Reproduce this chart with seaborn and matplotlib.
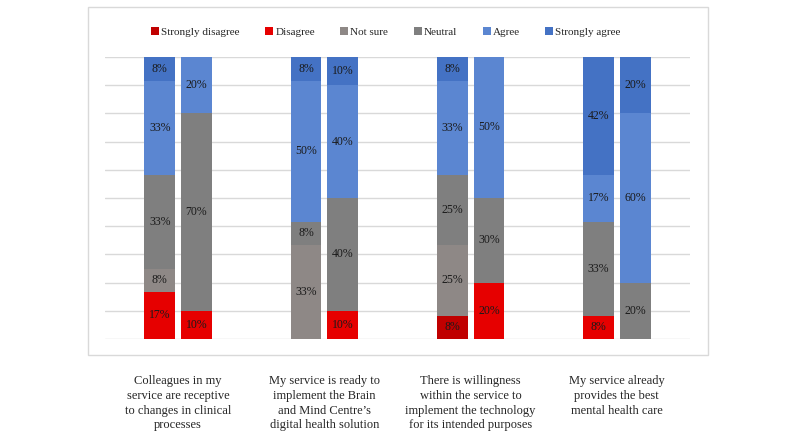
import seaborn as sns
import matplotlib.pyplot as plt
from matplotlib.patches import Patch, Rectangle
import pandas as pd

questions = [
    "Colleagues in my\nservice are receptive\nto changes in clinical\nprocesses",
    "My service is ready to\nimplement the Brain\nand Mind Centre\u2019s\ndigital health solution",
    "There is willingness\nwithin the service to\nimplement the technology\nfor its intended purposes",
    "My service already\nprovides the best\nmental health care",
]
bars = ["A", "B"]
levels = ["Strongly disagree", "Disagree", "Not sure", "Neutral", "Agree", "Strongly agree"]
colors = ["#C00000", "#E60000", "#8E8886", "#7F7F7F", "#5B86D1", "#4472C4"]

# percentages per bar, bottom to top, in the order of `levels`
strongly_disagree = [0, 0, 0, 0, 8.33, 0, 0, 0]
disagree = [16.67, 10, 0, 10, 0, 20, 8.33, 0]
not_sure = [8.33, 0, 33.33, 0, 25, 0, 0, 0]
neutral = [33.33, 70, 8.33, 40, 25, 30, 33.33, 20]
agree = [33.33, 20, 50, 40, 33.33, 50, 16.67, 60]
strongly_agree = [8.33, 0, 8.33, 10, 8.33, 0, 41.67, 20]

series = [strongly_disagree, disagree, not_sure, neutral, agree, strongly_agree]

df = pd.DataFrame({
    "question": [q for q in questions for _ in bars],
    "bar": bars * len(questions),
})
cum = [0.0] * len(df)
for name, vals in zip(levels, series):
    cum = [c + v for c, v in zip(cum, vals)]
    df[name] = cum

sns.set_style("white")
plt.rcParams["font.family"] = ["Liberation Serif", "DejaVu Serif"]

fig = plt.figure(figsize=(8, 4.37), dpi=100)
ax = fig.add_axes([105 / 800, 98 / 437, 585 / 800, 282 / 437])

# frame around the chart
fig.patches.append(Rectangle((88 / 800, 82 / 437), 620 / 800, 348 / 437,
                             transform=fig.transFigure, fill=False,
                             edgecolor="#d9d9d9", linewidth=1))

width, gap = 0.5, 0.16
# draw cumulative bars from the top level down so lower segments cover upper ones
for name, color in reversed(list(zip(levels, colors))):
    sns.barplot(data=df, x="question", y=name, hue="bar", hue_order=bars,
                order=questions, palette=[color, color], width=width, gap=gap,
                dodge=True, errorbar=None, legend=False, ax=ax, linewidth=0,
                saturation=1)

# segment labels
for i in range(len(df)):
    qi = questions.index(df.loc[i, "question"])
    bi = bars.index(df.loc[i, "bar"])
    x = qi + (bi - 0.5) * width / 2
    base = 0
    for name, vals in zip(levels, series):
        v = vals[i]
        if v > 0:
            ax.text(x, base + v / 2, f"{v:.0f}%", ha="center", va="center",
                    fontsize=8.5, color="#1a1a1a")
        base += v

ax.set_xlim(-0.5, 3.5)
ax.set_ylim(0, 100)
ax.set_yticks(range(0, 101, 10))
ax.set_yticklabels([])
ax.yaxis.grid(True, color="#d9d9d9", linewidth=1)
ax.set_axisbelow(True)
for s in ax.spines.values():
    s.set_visible(False)
ax.tick_params(axis="both", length=0)
ax.tick_params(axis="x", pad=26, labelsize=9, labelcolor="#262626")
ax.set_xlabel("")
ax.set_ylabel("")
for lbl in ax.get_xticklabels():
    lbl.set_linespacing(1.3)
    lbl.set_verticalalignment("top")

handles = [Patch(facecolor=c, edgecolor="none") for c in colors]
fig.legend(handles, levels, loc="center", bbox_to_anchor=(386 / 800, 1 - 32 / 437),
           ncol=6, frameon=False, fontsize=8, handlelength=0.7, handleheight=0.7,
           handletextpad=0.2, columnspacing=2.3)

fig.savefig("out.png", dpi=100)
